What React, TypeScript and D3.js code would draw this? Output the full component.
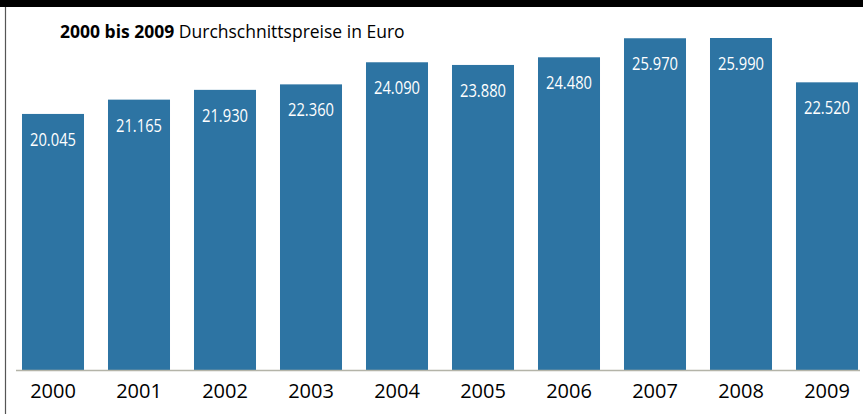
import React, { useRef, useEffect } from "react";
import * as d3 from "d3";

const years = ["2000", "2001", "2002", "2003", "2004", "2005", "2006", "2007", "2008", "2009"];
const prices = [20045, 21165, 21930, 22360, 24090, 23880, 24480, 25970, 25990, 22520];
const titleBold = "2000 bis 2009";
const titleRest = " Durchschnittspreise in Euro";

const fmt = (v: number) => d3.format(",")(v).replace(/,/g, ".");

export default function App() {
  const svgRef = useRef<SVGSVGElement>(null);

  useEffect(() => {
    const svg = d3.select(svgRef.current);
    svg.selectAll("*").remove();

    const width = 863;
    const height = 414;
    const baseY = 370;

    const x = d3
      .scaleBand<string>()
      .domain(years)
      .range([10, 870])
      .paddingInner(0.279)
      .paddingOuter(0.1395);

    const y = d3.scaleLinear().domain([0, 25990]).range([baseY, 38]);

    svg.append("rect").attr("width", width).attr("height", height).attr("fill", "#fff");

    // top black band and left rule
    svg.append("rect").attr("x", 0).attr("y", 0).attr("width", width).attr("height", 7).attr("fill", "#000");
    svg
      .append("line")
      .attr("x1", 5.5)
      .attr("x2", 5.5)
      .attr("y1", 7)
      .attr("y2", height)
      .attr("stroke", "#555")
      .attr("stroke-width", 1.2);

    // title
    const title = svg
      .append("text")
      .attr("x", 60)
      .attr("y", 38)
      .attr("font-family", "'Open Sans', sans-serif")
      .attr("font-size", 17.5)
      .attr("fill", "#000");
    title.append("tspan").attr("font-weight", "bold").text(titleBold);
    title.append("tspan").text(titleRest);

    const data = years.map((yr, i) => ({ yr, v: prices[i] }));

    // bars
    svg
      .append("g")
      .selectAll("rect")
      .data(data)
      .join("rect")
      .attr("x", (d) => x(d.yr)!)
      .attr("y", (d) => y(d.v))
      .attr("width", x.bandwidth())
      .attr("height", (d) => baseY - y(d.v))
      .attr("fill", "#2d74a3");

    // value labels (condensed look)
    svg
      .append("g")
      .selectAll("text")
      .data(data)
      .join("text")
      .attr("x", (d) => x(d.yr)! + x.bandwidth() / 2)
      .attr("y", (d) => y(d.v) + 32)
      .attr("text-anchor", "middle")
      .attr("font-family", "'Open Sans', sans-serif")
      .attr("font-size", 19)
      .attr("fill", "#fff")
      .attr("textLength", 46)
      .attr("lengthAdjust", "spacingAndGlyphs")
      .text((d) => fmt(d.v));

    // baseline
    svg
      .append("line")
      .attr("x1", 16)
      .attr("x2", 860)
      .attr("y1", baseY + 0.5)
      .attr("y2", baseY + 0.5)
      .attr("stroke", "#b4b4a8")
      .attr("stroke-width", 1.5);

    // year labels
    svg
      .append("g")
      .selectAll("text")
      .data(years)
      .join("text")
      .attr("x", (d) => x(d)! + x.bandwidth() / 2)
      .attr("y", 398)
      .attr("text-anchor", "middle")
      .attr("font-family", "'Open Sans', sans-serif")
      .attr("font-size", 20)
      .attr("fill", "#000")
      .text((d) => d);
  }, []);

  return (
    <svg
      ref={svgRef}
      width={863}
      height={414}
      style={{ position: "absolute", left: 0, top: 0, display: "block" }}
    />
  );
}
